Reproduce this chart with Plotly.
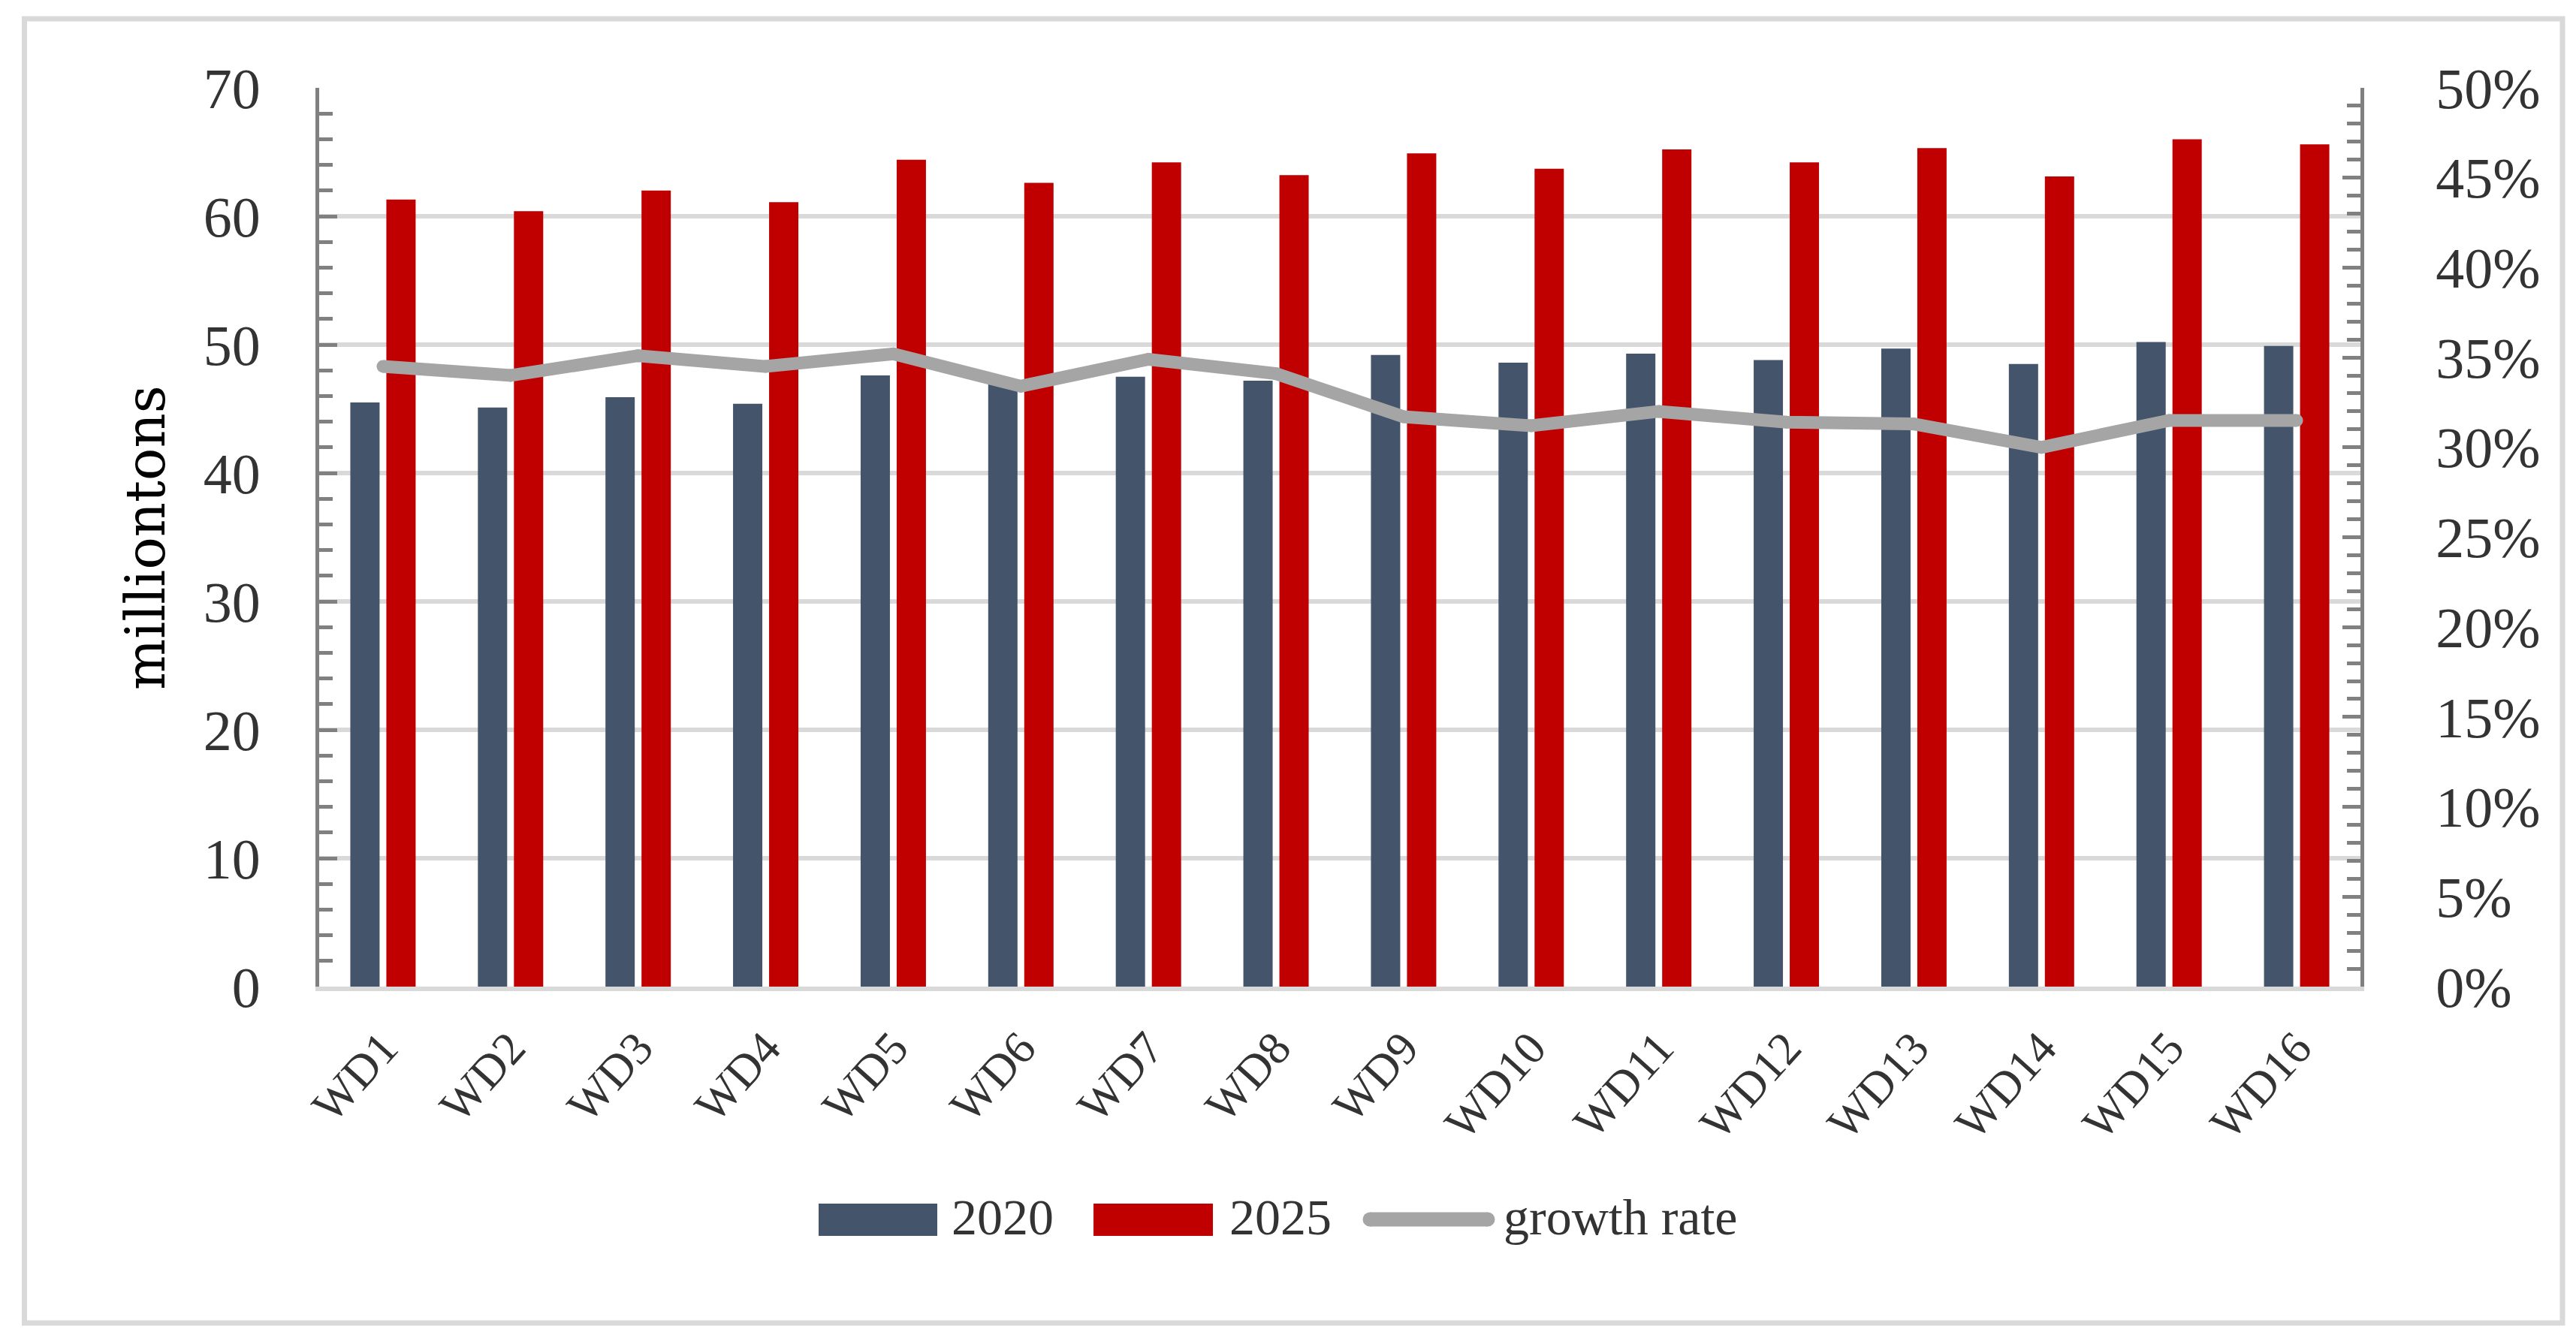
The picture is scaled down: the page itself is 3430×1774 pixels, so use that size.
import plotly.graph_objects as go

categories = ["WD1", "WD2", "WD3", "WD4", "WD5", "WD6", "WD7", "WD8",
              "WD9", "WD10", "WD11", "WD12", "WD13", "WD14", "WD15", "WD16"]
values_2020 = [45.5, 45.1, 45.9, 45.4, 47.6, 47.0, 47.5, 47.2,
               49.2, 48.6, 49.3, 48.8, 49.7, 48.5, 50.2, 49.9]
values_2025 = [61.3, 60.4, 62.0, 61.1, 64.4, 62.6, 64.2, 63.2,
               64.9, 63.7, 65.2, 64.2, 65.3, 63.1, 66.0, 65.6]
growth_rate = [34.5, 34.0, 35.1, 34.5, 35.2, 33.4, 34.9, 34.1,
               31.7, 31.2, 32.0, 31.4, 31.3, 30.0, 31.5, 31.5]
left_ticks = [0, 10, 20, 30, 40, 50, 60, 70]
right_ticks = [0, 5, 10, 15, 20, 25, 30, 35, 40, 45, 50]
series_names = ["2020", "2025", "growth rate"]

C2020 = "#44546A"
C2025 = "#C00000"
CLINE = "#A5A5A5"
AXIS = "#808080"
GRID = "#D9D9D9"
TXT = "#333333"
SERIF = "Liberation Serif"

W, H = 3430, 1774
L, R, T, B = 417, 3135, 109, 1306


def px(x):
    return (x - L) / (R - L)


def py(y):
    return (B - y) / (B - T)


fig = go.Figure()
fig.add_trace(go.Bar(x=categories, y=values_2020, name=series_names[0],
                     marker=dict(color=C2020, line=dict(width=0)), showlegend=False))
fig.add_trace(go.Bar(x=categories, y=values_2025, name=series_names[1],
                     marker=dict(color=C2025, line=dict(width=0)), showlegend=False))
fig.add_trace(go.Scatter(x=categories, y=growth_rate, name=series_names[2], yaxis="y2",
                         mode="lines+markers",
                         line=dict(color=CLINE, width=17),
                         marker=dict(color=CLINE, size=17, line=dict(width=0)),
                         showlegend=False))

shapes = []
# outer border
shapes.append(dict(type="rect", xref="paper", yref="paper",
                   x0=px(24.5), x1=px(3404), y0=py(17), y1=py(1754),
                   line=dict(color=GRID, width=7), fillcolor="rgba(0,0,0,0)", layer="below"))
# legend swatches
ly0, ly1 = py(1595), py(1638)
shapes.append(dict(type="rect", xref="paper", yref="paper", x0=px(1082), x1=px(1240),
                   y0=ly1, y1=ly0, line=dict(width=0), fillcolor=C2020))
shapes.append(dict(type="rect", xref="paper", yref="paper", x0=px(1448), x1=px(1607),
                   y0=ly1, y1=ly0, line=dict(width=0), fillcolor=C2025))
shapes.append(dict(type="line", xref="paper", yref="paper", x0=px(1816), x1=px(1973),
                   y0=py(1616), y1=py(1616), line=dict(color=CLINE, width=19)))
for cx in (1816, 1973):
    shapes.append(dict(type="circle", xref="paper", yref="paper",
                       xsizemode="pixel", ysizemode="pixel",
                       xanchor=px(cx), yanchor=py(1616),
                       x0=-9.5, x1=9.5, y0=-9.5, y1=9.5,
                       line=dict(width=0), fillcolor=CLINE))

annotations = []
for text, x0 in ((series_names[0], 1257), (series_names[1], 1627), (series_names[2], 1992)):
    annotations.append(dict(text=text, xref="paper", yref="paper", x=px(x0), y=py(1613),
                            xanchor="left", yanchor="middle", showarrow=False,
                            font=dict(family=SERIF, size=68, color=TXT)))
annotations.append(dict(text="milliontons", xref="paper", yref="paper", x=px(186), y=py(708),
                        xanchor="center", yanchor="middle", textangle=-90, showarrow=False,
                        font=dict(family="DejaVu Serif", size=72, color="#000000")))

fig.update_layout(
    width=W, height=H,
    margin=dict(l=L, r=W - R, t=T, b=H - B, pad=0),
    paper_bgcolor="white", plot_bgcolor="white",
    barmode="group", bargap=0.435, bargroupgap=0.1875,
    shapes=shapes, annotations=annotations,
    showlegend=False,
    xaxis=dict(type="category", range=[-0.5, len(categories) - 0.5], tickangle=-48, ticks="",
               tickfont=dict(family=SERIF, size=62, color=TXT),
               showline=True, linecolor=GRID, linewidth=6,
               showgrid=False, automargin=False, ticklabelstandoff=14),
    yaxis=dict(range=[0, 70], tickvals=left_ticks, ticktext=[str(v) for v in left_ticks],
               tickfont=dict(family=SERIF, size=76, color=TXT),
               showline=True, linecolor=AXIS, linewidth=5,
               ticks="inside", ticklen=24, tickwidth=5, tickcolor=AXIS,
               minor=dict(dtick=2, ticks="inside", ticklen=18, tickwidth=5, tickcolor=AXIS,
                          showgrid=False),
               showgrid=True, gridcolor=GRID, gridwidth=6, zeroline=False,
               automargin=False, ticklabelstandoff=58),
    yaxis2=dict(range=[0, 50], overlaying="y", side="right",
                tickvals=right_ticks, ticktext=[f"{v}%" for v in right_ticks],
                tickfont=dict(family=SERIF, size=76, color=TXT),
                showline=True, linecolor=AXIS, linewidth=5,
                ticks="inside", ticklen=24, tickwidth=5, tickcolor=AXIS,
                minor=dict(dtick=1, ticks="inside", ticklen=18, tickwidth=5, tickcolor=AXIS,
                           showgrid=False),
                showgrid=False, zeroline=False, automargin=False, ticklabelstandoff=80),
)

fig.write_html("out.html")
